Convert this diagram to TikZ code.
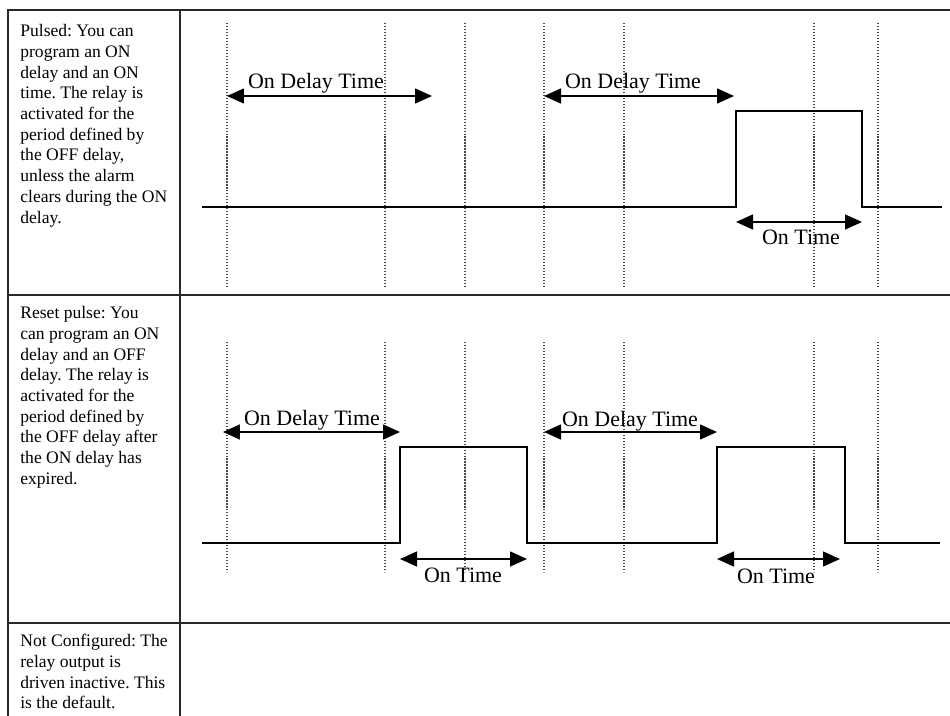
\documentclass[tikz,border=0pt]{standalone}
\usepackage{fontspec}
\setmainfont{Liberation Serif}
\usetikzlibrary{arrows.meta,positioning}
\definecolor{tickgray}{RGB}{70,70,70}
\definecolor{framegray}{RGB}{40,40,40}
\frenchspacing

\begin{document}
\begin{tikzpicture}[
    x=0.02cm,y=-0.02cm,
    desc/.style={anchor=north west,align=left,inner sep=0pt,font=\fontsize{10}{11.8}\selectfont},
    lbl/.style={anchor=base,inner sep=0pt,font=\fontsize{12.5}{14}\selectfont},
    frame/.style={draw=framegray,line width=1.1pt},
    tick/.style={tickgray,densely dotted,line width=0.7pt},
    sig/.style={black,line width=0.8pt},
    dim/.style={{Triangle[length=0.34cm,width=0.3cm]}-{Triangle[length=0.34cm,width=0.3cm]},black,line width=0.8pt}
]
\useasboundingbox (0,0) rectangle (950,716);

% table
\draw[frame] (950,10) -- (8,10) -- (8,716);
\draw[frame] (180,10) -- (180,716);
\draw[frame] (8,295) -- (950,295);
\draw[frame] (8,623) -- (950,623);

% mode descriptions
\node[desc] (pulsed) at (20,24) {Pulsed: You can\\program an ON\\delay and an ON\\time. The relay is\\activated for the\\period defined by\\the OFF delay,\\unless the alarm\\clears during the ON\\delay.};
\node[desc] (reset) at (20,306) {Reset pulse: You\\can program an ON\\delay and an OFF\\delay. The relay is\\activated for the\\period defined by\\the OFF delay after\\the ON delay has\\expired.};
\node[desc] (notcfg) at (20,634) {Not Configured: The\\relay output is\\driven inactive. This\\is the default.};

% time marks
\foreach \x in {227,385,465,544,624,814,878} {
    \draw[tick] (\x,23) -- (\x,288);
    \draw[tick] (\x,342) -- (\x,572);
}

% pulsed signal
\draw[sig] (202,207) -- (736,207) -- (736,111) -- (862,111) -- (862,207) -- (942,207);
% reset pulse signal
\draw[sig] (202,543) -- (400,543) -- (400,447) -- (527,447) -- (527,543) -- (717,543)
    -- (717,447) -- (845,447) -- (845,543) -- (940,543);

% arrow ends
\coordinate (pd1s) at (227,96);  \coordinate (pd1e) at (432,96);
\coordinate (pd2s) at (544,96);  \coordinate (pd2e) at (734,96);
\coordinate (pons) at (736,222); \coordinate (pone) at (862,222);
\coordinate (rd1s) at (223,432); \coordinate (rd1e) at (400,432);
\coordinate (rd2s) at (544,432); \coordinate (rd2e) at (717,432);
\coordinate (ro1s) at (400,559); \coordinate (ro1e) at (527,559);
\coordinate (ro2s) at (717,559); \coordinate (ro2e) at (840,559);

\foreach \a/\b in {pd1s/pd1e,pd2s/pd2e,pons/pone,rd1s/rd1e,rd2s/rd2e,ro1s/ro1e,ro2s/ro2e}
    \draw[dim] (\a) -- (\b);

% labels
\node[lbl] (pdl1) at (316,89)  {On Delay Time};
\node[lbl] (pdl2) at (633,89)  {On Delay Time};
\node[lbl] (pont) at (801,245) {On Time};
\node[lbl] (rdl1) at (312,425) {On Delay Time};
\node[lbl] (rdl2) at (630,426) {On Delay Time};
\node[lbl] (ront1) at (463,582) {On Time};
\node[lbl] (ront2) at (776,583) {On Time};
\end{tikzpicture}
\end{document}
